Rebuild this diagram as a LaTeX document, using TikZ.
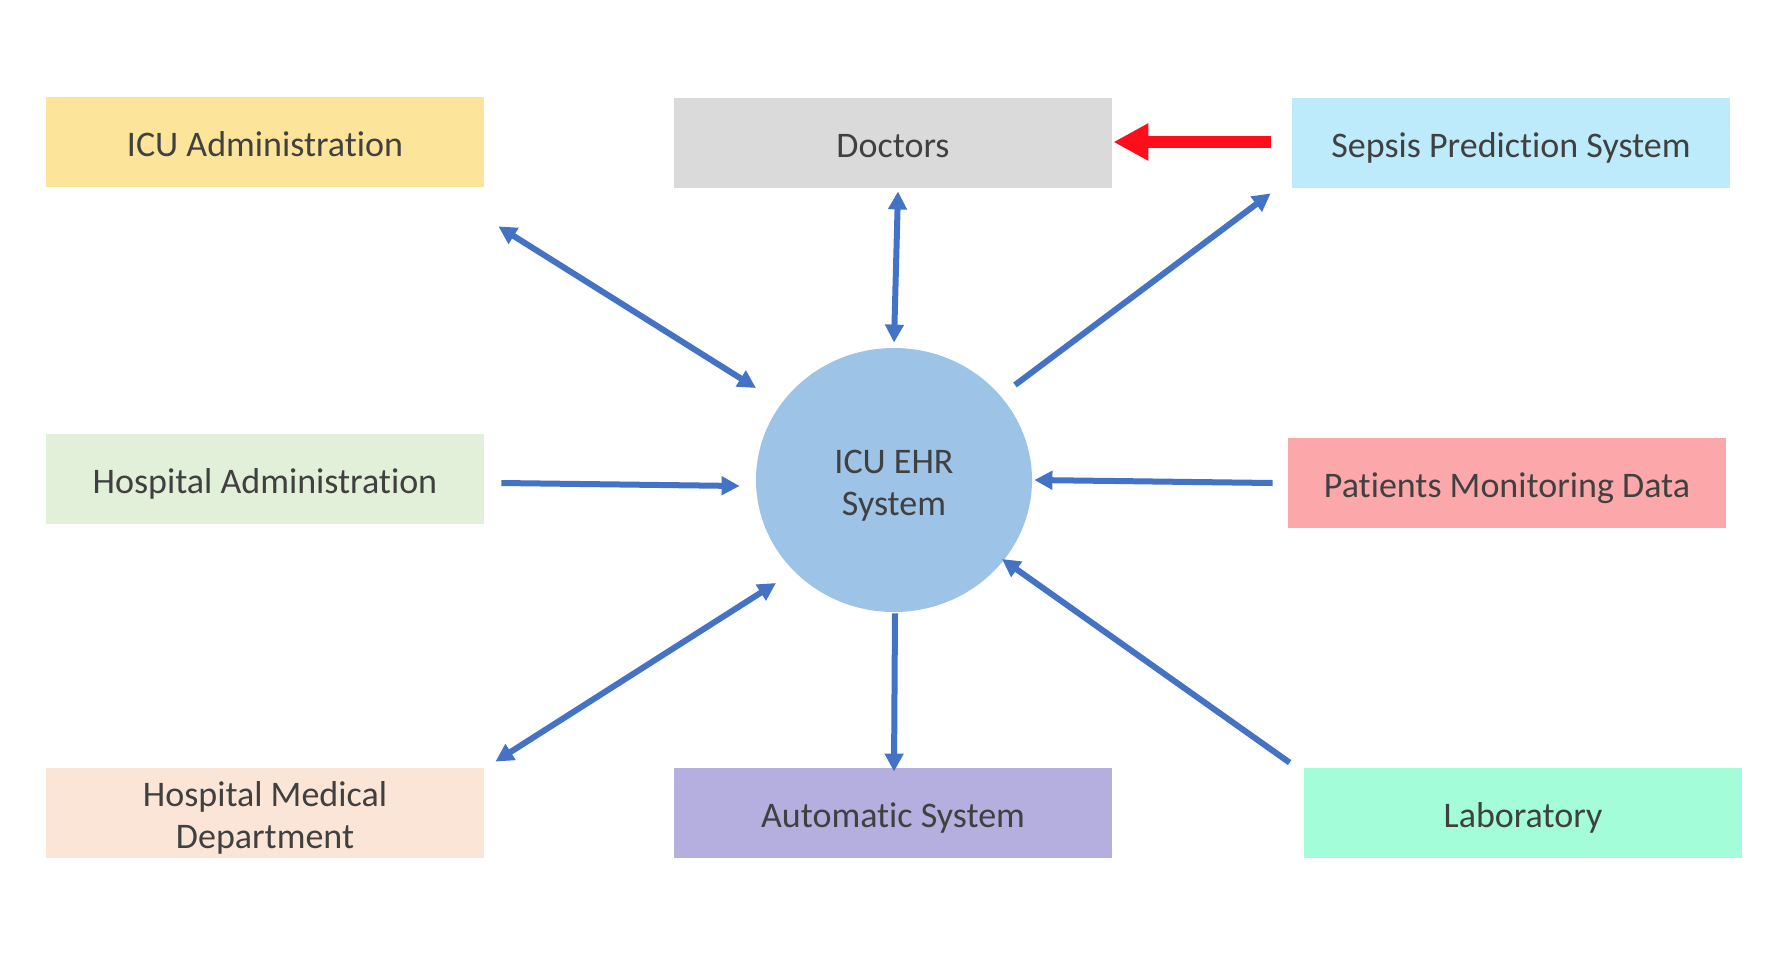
\documentclass[tikz,border=0pt]{standalone}
\usepackage{fontspec}
\setmainfont{Carlito}[Ligatures={NoCommon,NoContextual}]
\usetikzlibrary{calc}
\usetikzlibrary{arrows.meta,shapes.geometric}

\definecolor{admyellow}{HTML}{FDE49B}
\definecolor{docgray}{HTML}{DADADA}
\definecolor{sepblue}{HTML}{BDEBFC}
\definecolor{hadmgreen}{HTML}{E2EFD9}
\definecolor{patred}{HTML}{FCA8AA}
\definecolor{hmedpeach}{HTML}{FBE5D6}
\definecolor{autopurple}{HTML}{B4AFDE}
\definecolor{labgreen}{HTML}{A2FDD8}
\definecolor{ehrblue}{HTML}{9DC3E6}
\definecolor{linkblue}{HTML}{4472C4}
\definecolor{alertred}{HTML}{FF0D1B}
\definecolor{textgray}{HTML}{404040}

\begin{document}
\begin{tikzpicture}[x=0.5pt, y=-0.5pt,
        label text/.style={text=textgray, font=\fontsize{18}{21}\selectfont, align=center,
            text height=14.6pt, text depth=0pt},
        two lines/.style={text height=35.6pt},
        box/.style={rectangle, minimum width=219pt, minimum height=45pt, inner sep=0pt, label text},
        link/.style={draw=linkblue, line width=3pt, -{Triangle[length=9pt, width=9pt]}},
        twoway/.style={draw=linkblue, line width=3pt, {Triangle[length=9pt, width=9pt]}-{Triangle[length=9pt, width=9pt]}},
        alert/.style={draw=alertred, line width=6pt, -{Triangle[length=17.5pt, width=17.5pt]}}]
        \fill[white] (0,0) rectangle (1788,954);
        \useasboundingbox (0,0) rectangle (1788,954);

        % boxes
        \node[box, fill=admyellow] (adm) at (265,142) {ICU Administration};
        \node[box, fill=docgray] (doc) at (893,143) {Doctors};
        \node[box, fill=sepblue] (sep) at (1511,143) {Sepsis Prediction System};
        \node[box, fill=hadmgreen] (hadm) at (265,479) {Hospital Administration};
        \node[box, fill=patred] (pat) at (1507,483) {Patients Monitoring Data};
        \node[box, two lines, fill=hmedpeach] (hmed) at (265,813) {Hospital Medical\\Department};
        \node[box, fill=autopurple] (auto) at (893,813) {Automatic System};
        \node[box, fill=labgreen] (lab) at (1523,813) {Laboratory};

        % centre
        \node[ellipse, fill=ehrblue, minimum width=138pt, minimum height=132pt, inner sep=0pt,
            label text, two lines] (ehr) at (894,480) {ICU EHR\\System};

        % connectors
        \draw[twoway] ($(adm.south east)+(14,39)$) -- ($(ehr.center)+(-138,-92)$);
        \draw[twoway] ($(doc.south)+(5,3)$) -- ($(ehr.north)+(0,-5)$);
        \draw[link] ($(ehr.center)+(121,-95)$) -- ($(sep.south west)+(-21,5)$);
        \draw[alert] ($(sep.west)+(-21,-1)$) -- ($(doc.east)+(1,-1)$);
        \draw[link] ($(hadm.east)+(17,4)$) -- ($(ehr.west)+(-16,6)$);
        \draw[link] ($(pat.west)+(-15,0)$) -- ($(ehr.east)+(2,0)$);
        \draw[twoway] ($(hmed.north east)+(11,-6)$) -- ($(ehr.center)+(-118,103)$);
        \draw[link] ($(ehr.south)+(1,1)$) -- ($(auto.north)+(1,4)$);
        \draw[link] ($(lab.north west)+(-14,-5)$) -- ($(ehr.center)+(108,79)$);
    \end{tikzpicture}
\end{document}
